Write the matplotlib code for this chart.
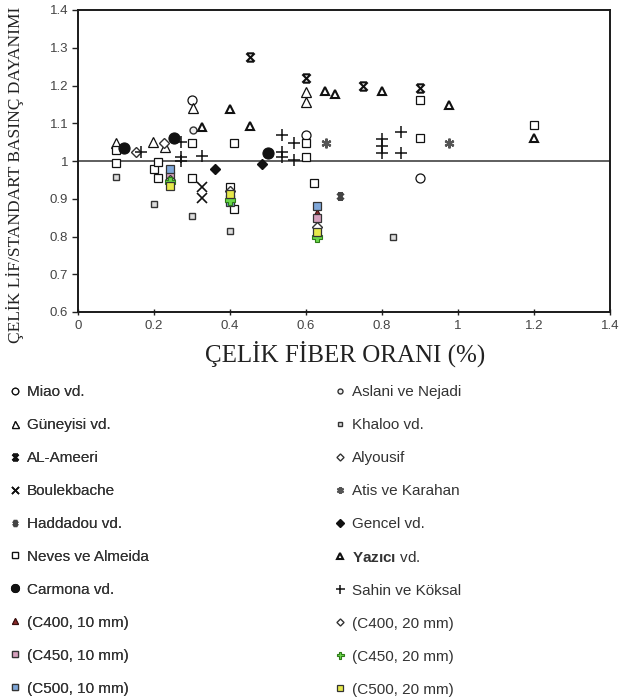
import matplotlib
matplotlib.use("Agg")
import matplotlib.pyplot as plt
from matplotlib.path import Path
import numpy as np

plt.rcParams['font.family'] = ['Liberation Sans', 'DejaVu Sans']
plt.rcParams['mathtext.fontset'] = 'custom'
plt.rcParams['mathtext.bf'] = 'Liberation Sans:bold'
plt.rcParams['mathtext.rm'] = 'Liberation Sans'

# ---- data: steel fibre ratio (%) vs. strength ratio ----
miao_x = [0.30, 0.60, 0.90]
miao_y = [1.162, 1.069, 0.955]

guneyisi_x = [0.10, 0.197, 0.228, 0.302, 0.60, 0.60]
guneyisi_y = [1.047, 1.051, 1.036, 1.140, 1.184, 1.157]

alameeri_x = [0.453, 0.599, 0.75, 0.90]
alameeri_y = [1.275, 1.220, 1.200, 1.193]

boulekbache_x = [0.325, 0.325]
boulekbache_y = [0.932, 0.901]

haddadou_x = [0.69]
haddadou_y = [0.907]

neves_x = [0.099, 0.099, 0.20, 0.21, 0.21, 0.301, 0.30, 0.41, 0.40, 0.41,
           0.60, 0.60, 0.62, 0.90, 0.90, 1.20]
neves_y = [1.030, 0.996, 0.978, 0.998, 0.954, 0.956, 1.047, 1.047, 0.930, 0.872,
           1.049, 1.011, 0.943, 1.162, 1.060, 1.095]

carmona_x = [0.12, 0.253, 0.50]
carmona_y = [1.035, 1.060, 1.022]

c400_10_x = [0.242, 0.628]
c400_10_y = [0.966, 0.862]

c450_10_x = [0.242, 0.40, 0.628]
c450_10_y = [0.960, 0.900, 0.848]

c500_10_x = [0.242, 0.40, 0.628]
c500_10_y = [0.980, 0.892, 0.881]

aslani_x = [0.303]
aslani_y = [1.082]

khaloo_x = [0.099, 0.20, 0.30, 0.40, 0.83]
khaloo_y = [0.958, 0.886, 0.854, 0.815, 0.800]

alyousif_x = [0.153, 0.226]
alyousif_y = [1.025, 1.047]

atis_x = [0.653, 0.975]
atis_y = [1.047, 1.049]

gencel_x = [0.36, 0.483]
gencel_y = [0.979, 0.992]

yazici_x = [0.327, 0.40, 0.453, 0.65, 0.676, 0.80, 0.975, 1.20]
yazici_y = [1.091, 1.138, 1.093, 1.186, 1.177, 1.186, 1.148, 1.060]

sahin_x = [0.165, 0.272, 0.272, 0.272, 0.326, 0.538, 0.538, 0.538, 0.569, 0.569,
           0.80, 0.80, 0.80, 0.85, 0.85]
sahin_y = [1.025, 1.050, 1.011, 1.000, 1.013, 1.069, 1.025, 1.011, 1.047, 1.003,
           1.057, 1.040, 1.020, 1.078, 1.022]

c400_20_x = [0.242, 0.40, 0.628]
c400_20_y = [0.950, 0.920, 0.826]

c450_20_x = [0.242, 0.40, 0.628]
c450_20_y = [0.945, 0.898, 0.800]

c500_20_x = [0.242, 0.40, 0.628]
c500_20_y = [0.935, 0.912, 0.813]

x_ticks = [0, 0.2, 0.4, 0.6, 0.8, 1, 1.2, 1.4]
x_ticklabels = ['0', '0.2', '0.4', '0.6', '0.8', '1', '1.2', '1.4']
y_ticks = [0.6, 0.7, 0.8, 0.9, 1.0, 1.1, 1.2, 1.3, 1.4]
y_ticklabels = ['0.6', '0.7', '0.8', '0.9', '1', '1.1', '1.2', '1.3', '1.4']

# X with horizontal caps, used for the AL-Ameeri / Haddadou markers
capped_x = Path([(-1, -1), (1, 1), (-1, 1), (1, -1),
                 (-0.8, 1), (0.8, 1), (-0.8, -1), (0.8, -1)],
                [Path.MOVETO, Path.LINETO, Path.MOVETO, Path.LINETO,
                 Path.MOVETO, Path.LINETO, Path.MOVETO, Path.LINETO])

fig = plt.figure(figsize=(6.33, 6.99), dpi=100)
ax = fig.add_axes([78 / 633, 1 - 312 / 699, (610 - 78) / 633, (312 - 10) / 699])

K = '#111111'
series = [
    ("Miao vd.", miao_x, miao_y, dict(marker='o', ms=6.5, mfc='white', mec=K, mew=0.9)),
    ("Güneyisi vd.", guneyisi_x, guneyisi_y, dict(marker='^', ms=7, mfc='white', mec=K, mew=0.9)),
    ("AL-Ameeri", alameeri_x, alameeri_y, dict(marker=capped_x, ms=6, mfc='none', mec=K, mew=1.5)),
    ("Boulekbache", boulekbache_x, boulekbache_y, dict(marker='x', ms=7, mec=K, mew=1.2)),
    ("Haddadou vd.", haddadou_x, haddadou_y, dict(marker=capped_x, ms=4.5, mfc='none', mec='#444444', mew=2.0)),
    ("Neves ve Almeida", neves_x, neves_y, dict(marker='s', ms=5.5, mfc='white', mec=K, mew=0.9)),
    ("Carmona vd.", carmona_x, carmona_y, dict(marker='o', ms=8, mfc=K, mec=K, mew=0.8)),
    ("(C400, 10 mm)", c400_10_x, c400_10_y, dict(marker='^', ms=6, mfc='#8b2a2a', mec='#3a1010', mew=0.8)),
    ("(C450, 10 mm)", c450_10_x, c450_10_y, dict(marker='s', ms=6, mfc='#d6a0bd', mec='#333333', mew=0.9)),
    ("(C500, 10 mm)", c500_10_x, c500_10_y, dict(marker='s', ms=6, mfc='#7fa7d9', mec='#333333', mew=0.9)),
    ("Aslani ve Nejadi", aslani_x, aslani_y, dict(marker='o', ms=5, mfc='#eeeeee', mec='#333333', mew=1.0)),
    ("Khaloo vd.", khaloo_x, khaloo_y, dict(marker='s', ms=5, mfc='#dddddd', mec='#333333', mew=1.0)),
    ("Alyousif", alyousif_x, alyousif_y, dict(marker='D', ms=5, mfc='white', mec='#333333', mew=1.0)),
    ("Atis ve Karahan", atis_x, atis_y, dict(marker=(6, 2, 0), ms=7, mec='#555555', mew=1.6)),
    ("Gencel vd.", gencel_x, gencel_y, dict(marker='D', ms=5.5, mfc=K, mec=K)),
    (r"$\mathbf{Yazıcı}$ vd.", yazici_x, yazici_y, dict(marker='^', ms=6, mfc='white', mec=K, mew=1.5)),
    ("Sahin ve Köksal", sahin_x, sahin_y, dict(marker='+', ms=9, mec=K, mew=1.1)),
    ("(C400, 20 mm)", c400_20_x, c400_20_y, dict(marker='D', ms=5, mfc='white', mec='#333333', mew=1.0)),
    ("(C450, 20 mm)", c450_20_x, c450_20_y, dict(marker='P', ms=7, mfc='#6ad84a', mec='#2e7a18', mew=0.8)),
    ("(C500, 20 mm)", c500_20_x, c500_20_y, dict(marker='s', ms=6, mfc='#e6e84a', mec='#333333', mew=0.9)),
]

handles = []
for label, xs, ys, style in series:
    z = 4 if label.startswith("(C") else 3
    h, = ax.plot(xs, ys, linestyle='none', label=label, zorder=z, **style)
    handles.append(h)

ax.axhline(1.0, color='#333333', lw=1.1, zorder=2)

ax.set_xlim(0, 1.4)
ax.set_ylim(0.6, 1.4)
ax.set_xticks(x_ticks)
ax.set_xticklabels(x_ticklabels)
ax.set_yticks(y_ticks)
ax.set_yticklabels(y_ticklabels)
ax.tick_params(axis='both', labelsize=9.5, labelcolor='#444444', color='#222222',
               length=4, width=1.0)
ax.tick_params(axis='x', direction='inout', pad=4)
ax.tick_params(axis='y', direction='out', pad=3)
for side in ['left', 'bottom', 'top', 'right']:
    ax.spines[side].set_linewidth(1.4)
    ax.spines[side].set_color('#1a1a1a')

fig.text(345 / 633, 1 - 354 / 699, "ÇELİK FİBER ORANI (%)", family='Liberation Serif',
         fontsize=18, ha='center', va='center', color='#222222')
fig.text(15 / 633, 1 - 175 / 699, "ÇELİK LİF/STANDART BASINÇ DAYANIMI", family='Liberation Serif',
         fontsize=12.5, ha='center', va='center', rotation=90, color='#222222')

leg_kw = dict(frameon=False, fontsize=11, labelspacing=1.24, handletextpad=0.35,
              handlelength=0.9, borderaxespad=0, labelcolor='#333333', markerscale=0.72)
leg1 = fig.legend(handles=handles[:10], loc='upper left',
                  bbox_to_anchor=(2 / 633, 1 - 379 / 699), **leg_kw)
leg2 = fig.legend(handles=handles[10:], loc='upper left',
                  bbox_to_anchor=(327 / 633, 1 - 379 / 699), **leg_kw)
fig.add_artist(leg1)

fig.savefig("out.png", dpi=100, facecolor='white')
